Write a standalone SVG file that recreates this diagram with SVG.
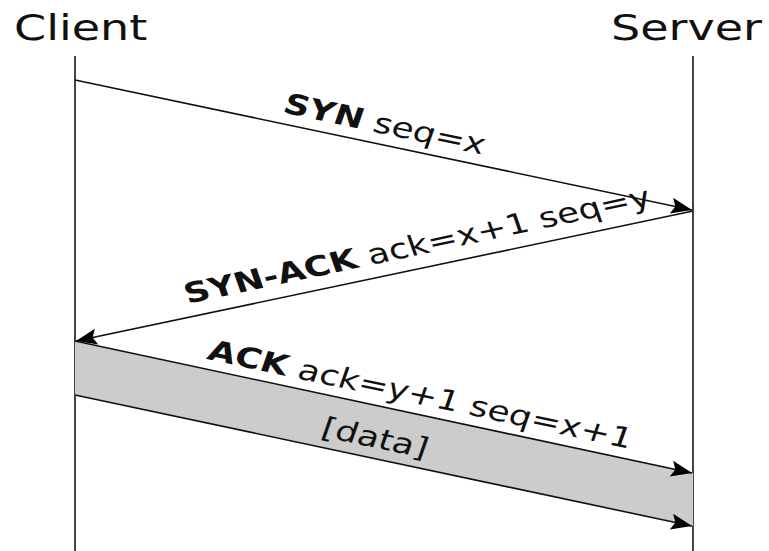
<svg xmlns="http://www.w3.org/2000/svg" width="769" height="551" viewBox="0 0 769 551">
  <style>
    .lifeline { stroke: #444; stroke-width: 2; fill: none; }
    .msg { stroke: #111; stroke-width: 1.6; fill: none; marker-end: url(#arrow); }
    .band { fill: #cccccc; stroke: none; }
    .head { font-family: "DejaVu Sans", "Liberation Sans", sans-serif; font-size: 36px; fill: #111; }
    .lbl { font-family: "DejaVu Sans", "Liberation Sans", sans-serif; font-size: 28px; fill: #111; }
    .b { font-weight: bold; }
  </style>
  <defs>
    <marker id="arrow" markerUnits="userSpaceOnUse" markerWidth="24" markerHeight="18" viewBox="-22 -9 24 18" refX="0" refY="0" orient="auto">
      <path d="M0,0 L-21,-8 L-17,0 L-21,8 Z" fill="#000"/>
    </marker>
  </defs>
  <rect width="769" height="551" fill="#fff"/>

  <g id="client">
    <text class="head" transform="translate(14,40) scale(1.28,1)">Client</text>
    <line class="lifeline" x1="75" y1="56" x2="75" y2="551"/>
  </g>
  <g id="server">
    <text class="head" transform="translate(611,40) scale(1.28,1)">Server</text>
    <line class="lifeline" x1="693" y1="56" x2="693" y2="551"/>
  </g>

  <g id="data-band">
    <polygon class="band" points="75,341 693,473 693,526 75,395"/>
  </g>

  <g id="connectors">
    <line class="msg" x1="75" y1="80" x2="692" y2="210"/>
    <line class="msg" x1="693" y1="211" x2="76" y2="341"/>
    <line class="msg" x1="75" y1="341" x2="692" y2="473"/>
    <line class="msg" x1="75" y1="395" x2="692" y2="526"/>
  </g>

  <g id="labels">
    <text class="lbl" text-anchor="middle" transform="translate(378,144) scale(1.28,1) rotate(15.2)" y="-11"><tspan class="b">SYN</tspan> seq=x</text>
    <text class="lbl" text-anchor="middle" transform="translate(425,268) scale(1.28,1) rotate(-15.2)" y="-14"><tspan class="b">SYN-ACK</tspan> ack=x+1 seq=y</text>
    <text class="lbl" text-anchor="middle" transform="translate(414,413.4) scale(1.28,1) rotate(15.2)" y="-10"><tspan class="b">ACK</tspan> ack=y+1 seq=x+1</text>
    <text class="lbl" text-anchor="middle" transform="translate(372,447) scale(1.28,1) rotate(15.2)">[data]</text>
  </g>
</svg>
